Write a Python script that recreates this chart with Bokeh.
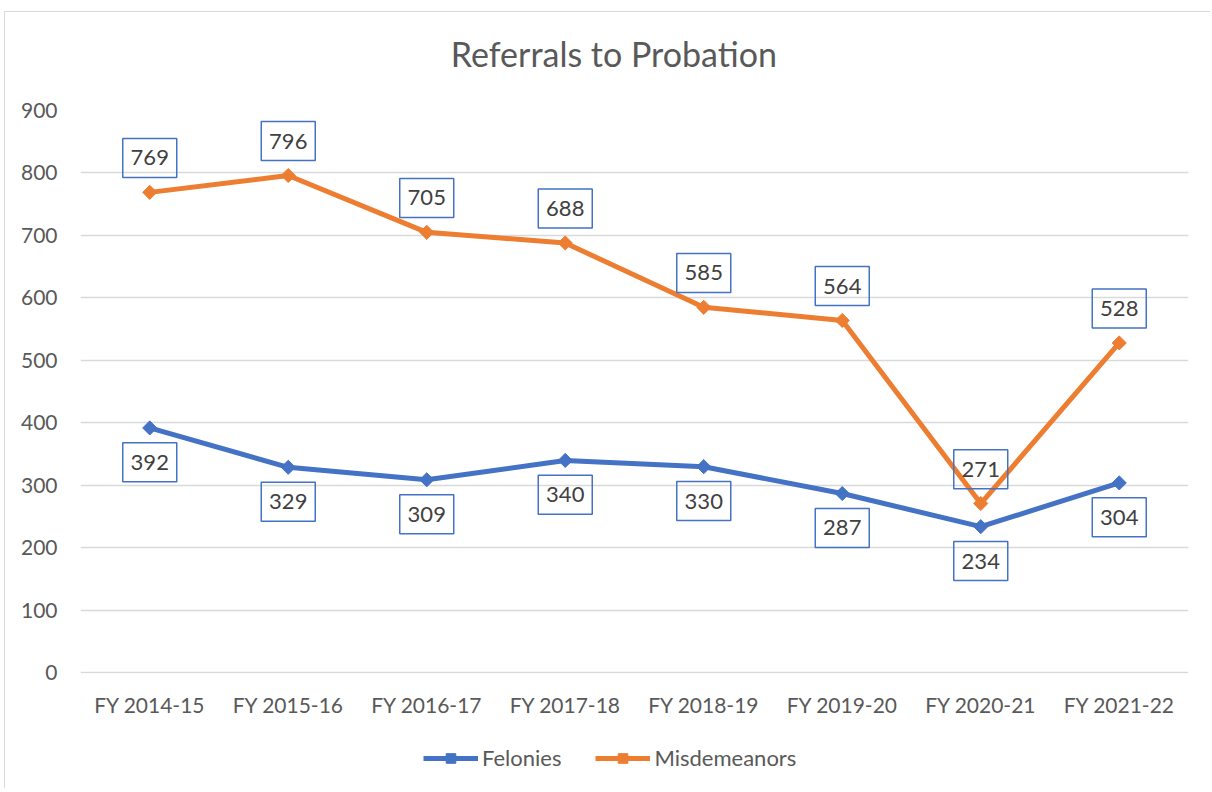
import math
from bokeh.plotting import figure
from bokeh.layouts import column
from bokeh.models import ColumnDataSource, Legend, LegendItem, FactorRange, Label
from bokeh.core.properties import value
from bokeh.embed import file_html
from bokeh.resources import INLINE

categories = ["FY 2014-15", "FY 2015-16", "FY 2016-17", "FY 2017-18",
              "FY 2018-19", "FY 2019-20", "FY 2020-21", "FY 2021-22"]
felonies = [392, 329, 309, 340, 330, 287, 234, 304]
misdemeanors = [769, 796, 705, 688, 585, 564, 271, 528]
y_ticks = [0, 100, 200, 300, 400, 500, 600, 700, 800, 900]
title_text = "Referrals to Probation"
series_names = ["Felonies", "Misdemeanors"]

BLUE = "#4472C4"
ORANGE = "#ED7D31"
FONT = "Lato"
W = 1205

# --- title strip ---
pt = figure(width=W, height=78, x_range=(0, W), y_range=(0, 78),
            output_backend="svg", toolbar_location=None,
            x_axis_type=None, y_axis_type=None, min_border=0)
pt.grid.visible = False
pt.outline_line_color = None
pt.add_layout(Label(x=580, y=37, text=title_text, text_align="center",
                    text_baseline="middle", text_font=FONT, text_font_size="34px",
                    text_color="#595959"))

# --- main chart ---
p = figure(x_range=FactorRange(*categories), y_range=(-1, 900),
           width=W, height=643, output_backend="svg", toolbar_location=None,
           min_border_left=75, min_border_right=22, min_border_top=20,
           min_border_bottom=60)
p.outline_line_color = None
p.xgrid.grid_line_color = None
p.ygrid.grid_line_color = "#d9d9d9"
p.ygrid.grid_line_width = 1.5
p.yaxis.ticker = y_ticks
for ax in (p.xaxis[0], p.yaxis[0]):
    ax.axis_line_color = None
    ax.major_tick_line_color = None
    ax.minor_tick_line_color = None
    ax.major_label_text_font = FONT
    ax.major_label_text_font_size = "21px"
    ax.major_label_text_color = "#595959"
p.yaxis.major_label_standoff = 17
p.xaxis.major_label_standoff = 12

src = ColumnDataSource(dict(
    cat=categories, fel=felonies, mis=misdemeanors,
    fel_txt=[str(v) for v in felonies], mis_txt=[str(v) for v in misdemeanors],
    fel_lbl=[v - 55 for v in felonies], mis_lbl=[v + 55 for v in misdemeanors],
))

p.line("cat", "fel", source=src, line_color=BLUE, line_width=5)
p.scatter("cat", "fel", source=src, marker="square", size=10, angle=math.pi / 4,
          fill_color=BLUE, line_color=BLUE)
p.line("cat", "mis", source=src, line_color=ORANGE, line_width=5)
p.scatter("cat", "mis", source=src, marker="square", size=10, angle=math.pi / 4,
          fill_color=ORANGE, line_color=ORANGE)

for ycol, tcol in (("fel_lbl", "fel_txt"), ("mis_lbl", "mis_txt")):
    p.rect("cat", ycol, source=src, width=54, height=39, width_units="screen",
           height_units="screen", fill_color=None, line_color=BLUE, line_width=1.5)
    p.text("cat", ycol, text=tcol, source=src, text_align="center",
           text_baseline="middle", text_font=value(FONT), text_font_size="22px",
           text_color="#404040")

# --- legend strip (proxy renderers hold the series but fall outside the visible range) ---
pl = figure(width=W, height=55, x_range=(0, 1), y_range=(-1, 0),
            output_backend="svg", toolbar_location=None,
            x_axis_type=None, y_axis_type=None, min_border=0)
pl.grid.visible = False
pl.outline_line_color = None
items = []
for name, col, vals in zip(series_names, (BLUE, ORANGE), (felonies, misdemeanors)):
    xs = list(range(len(vals)))
    r1 = pl.line(xs, vals, line_color=col, line_width=5)
    r2 = pl.scatter(xs, vals, marker="square", size=10, angle=math.pi / 4,
                    fill_color=col, line_color=col)
    items.append(LegendItem(label=name, renderers=[r1, r2]))
legend = Legend(items=items, orientation="horizontal", location=(343, 17),
                label_text_font=FONT, label_text_font_size="22px",
                label_text_color="#595959", glyph_width=55, glyph_height=24,
                label_standoff=4, spacing=34, border_line_color=None,
                background_fill_alpha=0, margin=0, padding=4)
pl.add_layout(legend, "center")

layout = column(pt, p, pl, spacing=0)
layout.styles = {"margin-left": "4px", "margin-top": "11px",
                 "border-left": "1px solid #d9d9d9", "border-top": "1px solid #d9d9d9"}

open("out.html", "w").write(file_html(layout, INLINE))
